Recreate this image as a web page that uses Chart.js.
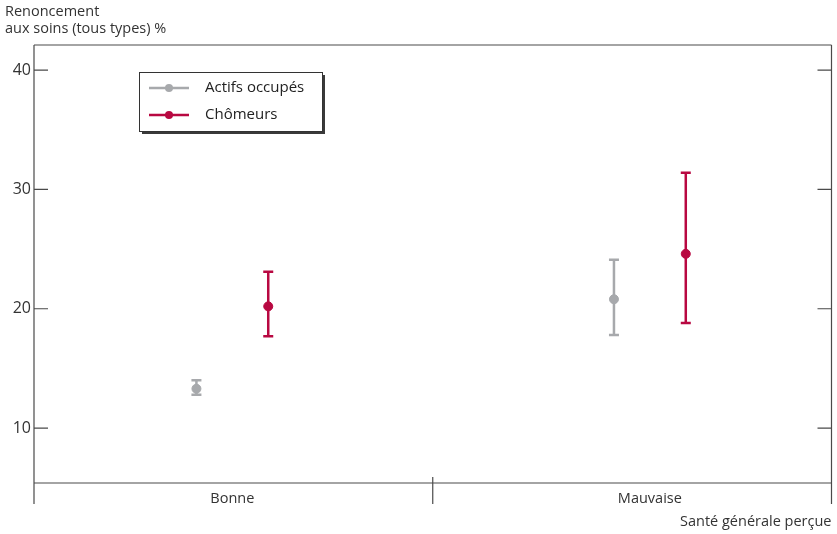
<!DOCTYPE html>
<html>
<head>
<meta charset="utf-8">
<script src="https://cdn.jsdelivr.net/npm/chart.js@4.4.0/dist/chart.umd.min.js"></script>
<style>
  html, body { margin: 0; background: #fff; }
  #wrap { width: 837px; height: 534px; }
</style>
</head>
<body>
<div id="wrap"><canvas id="chart"></canvas></div>
<script>
// ---- data ----
const categories     = ['Bonne', 'Mauvaise'];
const seriesNames    = ['Actifs occupés', 'Chômeurs'];
const actifsValues   = [13.3, 20.8];
const actifsLow      = [12.8, 17.8];
const actifsHigh     = [14.0, 24.1];
const chomeursValues = [20.2, 24.6];
const chomeursLow    = [17.7, 18.8];
const chomeursHigh   = [23.1, 31.4];
const yTicks         = [10, 20, 30, 40];

const yTitle = ['Renoncement', 'aux soins (tous types) %'];
const xTitle = 'Santé générale perçue';

const GREY = '#a7a9ac';
const RED  = '#b80841';
const AXIS = '#4a4a4a';
const FONT = '"Open Sans", "DejaVu Sans", sans-serif';
const SHIFT = 0.086;   // horizontal offset of each series inside its category

function toPoints(values, low, high, shift) {
  return values.map((v, i) => ({ x: i + shift, y: v, low: low[i], high: high[i] }));
}

// frame, ticks, labels, error bars, legend
const decorPlugin = {
  id: 'decor',
  beforeDatasetsDraw(chart) {
    const { ctx, chartArea: a, scales: { x, y } } = chart;
    ctx.save();
    ctx.strokeStyle = AXIS;
    ctx.lineWidth = 1.2;
    ctx.beginPath();
    ctx.moveTo(a.left, a.top);  ctx.lineTo(a.right, a.top);
    ctx.moveTo(a.left, a.top);  ctx.lineTo(a.left, a.bottom + 21);
    ctx.moveTo(a.right, a.top); ctx.lineTo(a.right, a.bottom + 21);
    ctx.moveTo(a.left, a.bottom); ctx.lineTo(a.right, a.bottom);
    const sep = x.getPixelForValue(0.48);
    ctx.moveTo(sep, a.bottom - 6); ctx.lineTo(sep, a.bottom + 21);
    yTicks.forEach(t => {
      const py = y.getPixelForValue(t);
      ctx.moveTo(a.left, py);  ctx.lineTo(a.left + 14, py);
      ctx.moveTo(a.right - 14, py); ctx.lineTo(a.right, py);
    });
    ctx.stroke();

    ctx.fillStyle = '#333';
    ctx.font = '16px ' + FONT;
    ctx.textAlign = 'right';
    ctx.textBaseline = 'middle';
    yTicks.forEach(t => ctx.fillText(String(t), a.left - 3, y.getPixelForValue(t)));

    ctx.font = '14.5px ' + FONT;
    ctx.textAlign = 'center';
    categories.forEach((c, i) => ctx.fillText(c, x.getPixelForValue(i), a.bottom + 16));

    ctx.textAlign = 'left';
    ctx.fillText(yTitle[0], 5, 12);
    ctx.fillText(yTitle[1], 5, 29);
    ctx.textAlign = 'right';
    ctx.fillText(xTitle, a.right, a.bottom + 39);

    // error bars
    chart.data.datasets.forEach(ds => {
      ctx.strokeStyle = ds.borderColor;
      ctx.lineWidth = 2.5;
      ds.data.forEach(p => {
        const px = x.getPixelForValue(p.x);
        const yl = y.getPixelForValue(p.low);
        const yh = y.getPixelForValue(p.high);
        ctx.beginPath();
        ctx.moveTo(px, yl); ctx.lineTo(px, yh);
        ctx.moveTo(px - 5, yl); ctx.lineTo(px + 5, yl);
        ctx.moveTo(px - 5, yh); ctx.lineTo(px + 5, yh);
        ctx.stroke();
      });
    });
    ctx.restore();
  },
  afterDraw(chart) {
    const { ctx } = chart;
    const bx = 139, by = 72, bw = 183, bh = 59;
    ctx.save();
    ctx.fillStyle = '#3a3a3a';
    ctx.fillRect(bx + 3, by + 3, bw, bh);
    ctx.fillStyle = '#fff';
    ctx.fillRect(bx, by, bw, bh);
    ctx.strokeStyle = '#333';
    ctx.lineWidth = 1;
    ctx.strokeRect(bx + 0.5, by + 0.5, bw, bh);
    ctx.font = '15px ' + FONT;
    ctx.textAlign = 'left';
    ctx.textBaseline = 'middle';
    chart.data.datasets.forEach((ds, i) => {
      const ly = by + 16 + i * 27;
      ctx.strokeStyle = ds.borderColor;
      ctx.lineWidth = 2.5;
      ctx.beginPath();
      ctx.moveTo(bx + 10, ly); ctx.lineTo(bx + 50, ly);
      ctx.stroke();
      ctx.fillStyle = ds.borderColor;
      ctx.beginPath();
      ctx.arc(bx + 30, ly, 4, 0, Math.PI * 2);
      ctx.fill();
      ctx.fillStyle = '#222';
      ctx.fillText(ds.label, bx + 66, ly);
    });
    ctx.restore();
  }
};

new Chart(document.getElementById('chart'), {
  type: 'scatter',
  data: {
    datasets: [
      {
        label: seriesNames[0],
        data: toPoints(actifsValues, actifsLow, actifsHigh, -SHIFT),
        borderColor: GREY,
        backgroundColor: GREY,
        pointRadius: 4.5,
        pointHoverRadius: 4.5
      },
      {
        label: seriesNames[1],
        data: toPoints(chomeursValues, chomeursLow, chomeursHigh, SHIFT),
        borderColor: RED,
        backgroundColor: RED,
        pointRadius: 4.5,
        pointHoverRadius: 4.5
      }
    ]
  },
  options: {
    responsive: true,
    maintainAspectRatio: false,
    animation: false,
    layout: { padding: { left: 34, top: 45, right: 4, bottom: 51 } },
    scales: {
      x: { type: 'linear', min: -0.475, max: 1.435, display: false },
      y: { type: 'linear', min: 5.4, max: 42.1, display: false }
    },
    plugins: {
      legend: { display: false },
      tooltip: { enabled: false }
    }
  },
  plugins: [decorPlugin]
});
</script>
</body>
</html>
